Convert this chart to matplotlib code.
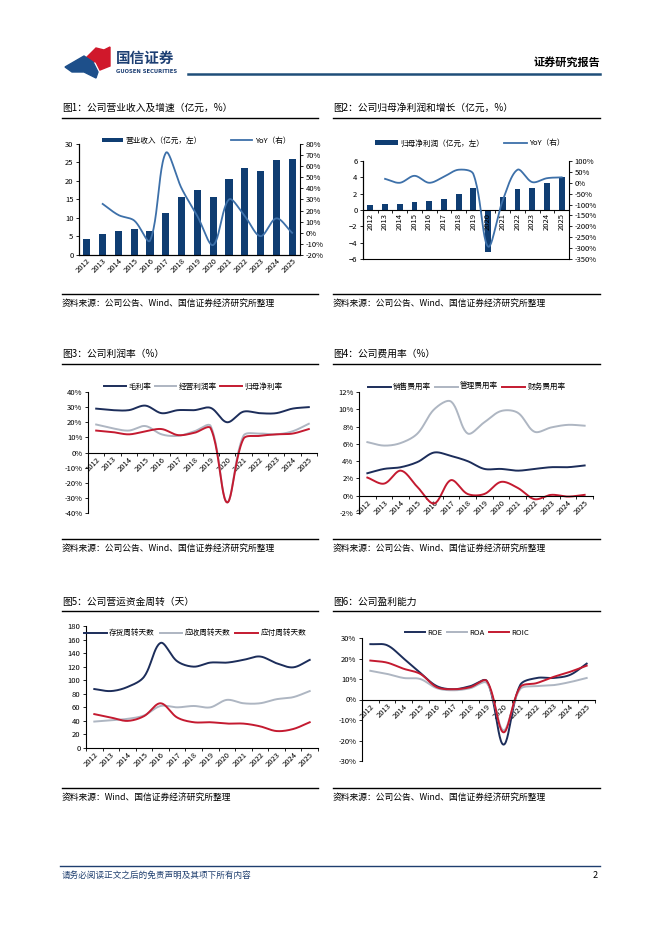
import numpy as np
import matplotlib
matplotlib.use("Agg")
import matplotlib.pyplot as plt
from matplotlib.lines import Line2D
from matplotlib.patches import Polygon
from matplotlib.ticker import FuncFormatter, MultipleLocator

plt.rcParams['font.family'] = ['Noto Sans CJK SC', 'DejaVu Sans']
plt.rcParams['axes.unicode_minus'] = True

years = [str(y) for y in range(2012, 2026)]

# 图1
revenue = [4.4, 5.6, 6.4, 7.1, 6.6, 11.3, 15.8, 17.7, 15.8, 20.5, 23.6, 22.8, 25.8, 25.9]
revenue_yoy = [None, 26, 16, 11, -7, 72, 40, 15, -11, 30, 15, -3, 13, 0]

# 图2
profit = [0.65, 0.75, 0.75, 1.0, 1.05, 1.3, 2.0, 2.7, -5.2, 1.65, 2.55, 2.7, 3.25, 4.0]
profit_yoy = [None, 18, 0, 32, 0, 28, 60, 40, -293, -80, 60, 3, 21, 25]

# 图3
gross_margin = [29, 28, 28, 31, 26, 28, 28, 29.5, 20, 27, 26, 26, 29, 30]
op_margin = [18.5, 16, 14.5, 17.5, 12, 11, 14, 17.5, -33, 11, 12.5, 12, 14, 19]
net_margin = [14.5, 13.5, 12, 14, 15.5, 11.5, 13, 16, -33, 9, 11, 12, 12.5, 15.5]

# 图4
sell_rate = [2.6, 3.1, 3.3, 3.9, 5.0, 4.6, 4.0, 3.1, 3.1, 2.9, 3.1, 3.3, 3.3, 3.5]
admin_rate = [6.2, 5.8, 6.1, 7.2, 10.0, 10.9, 7.2, 8.5, 9.8, 9.6, 7.4, 7.9, 8.2, 8.1]
fin_rate = [2.1, 1.4, 2.9, 1.0, -0.9, 1.8, 0.2, 0.2, 1.6, 0.9, -0.4, 0.1, -0.1, 0.1]

# 图5
inv_days = [87, 84, 90, 105, 155, 128, 120, 126, 126, 130, 135, 125, 119, 130]
rec_days = [39, 41, 43, 48, 62, 60, 62, 60, 71, 66, 66, 72, 75, 84]
pay_days = [50, 45, 40, 47, 66, 45, 38, 38, 36, 36, 32, 25, 28, 38]

# 图6
roe = [27, 26.5, 20, 13, 6.5, 5, 6.5, 9, -22, 7, 10.5, 10.5, 12, 17.5]
roa = [14, 12.5, 10.5, 10, 5.5, 4.5, 5.5, 8, -15, 5, 6.5, 7, 8.5, 10.5]
roic = [19, 18, 15, 12.5, 6, 5, 6, 9, -16, 6, 8, 11, 13.5, 16.5]

NAVY = '#0f3d72'
LINE_BLUE = '#3d70a9'
DARK = '#1c2d5a'
GREY = '#aeb6c2'
RED = '#c41a30'

W, H = 662, 936
fig = plt.figure(figsize=(W / 100, H / 100), dpi=100)


def fx(x):
    return x / W


def fy(y):
    return 1 - y / H


def hline(x0, x1, y, color='black', lw=1.0):
    fig.add_artist(Line2D([fx(x0), fx(x1)], [fy(y), fy(y)], color=color, lw=lw,
                          transform=fig.transFigure))


def add_axes(x0, x1, y0, y1):
    return fig.add_axes([fx(x0), fy(y1), fx(x1 - x0), (y1 - y0) / H])


def smooth(xv, yv, ky=1.0, n=24):
    # bezier smoothing, control arms weighted by neighbouring segment lengths
    pts = [(x, y) for x, y in zip(xv, yv) if y is not None]
    P = np.array(pts, float)
    Q = P * np.array([1.0, ky])
    m = len(P)

    def d(i, j):
        return np.hypot(*(Q[j] - Q[i])) + 1e-9

    out = []
    t = np.linspace(0, 1, n, endpoint=False)[:, None]
    for i in range(m - 1):
        i0, i3 = max(i - 1, 0), min(i + 2, m - 1)
        p1, p2 = P[i], P[i + 1]
        d01, d12, d23 = d(i0, i), d(i, i + 1), d(i + 1, i3)
        c1 = p1 + (P[i + 1] - P[i0]) / 3 * d12 / (d01 + d12) if i0 != i else p1 + (p2 - p1) / 3
        c2 = p2 - (P[i3] - P[i]) / 3 * d12 / (d12 + d23) if i3 != i + 1 else p2 - (p2 - p1) / 3
        seg = ((1 - t) ** 3) * p1 + 3 * ((1 - t) ** 2) * t * c1 + 3 * (1 - t) * t ** 2 * c2 + t ** 3 * p2
        out.append(seg)
    out.append(P[-1:])
    out = np.vstack(out)
    return out[:, 0], out[:, 1]


def ky_of(ax, ylim):
    bb = ax.get_position()
    wpx = bb.width * W / 14
    hpx = bb.height * H / (ylim[1] - ylim[0])
    return hpx / wpx


def style_ax(ax, fs=5.5):
    ax.tick_params(labelsize=fs, length=2.5, width=0.6, pad=1.5)
    for s in ['top', 'right']:
        ax.spines[s].set_visible(False)
    for s in ['left', 'bottom']:
        ax.spines[s].set_linewidth(0.8)


pct = FuncFormatter(lambda v, p: f'{v:.0f}%')
x = np.arange(len(years))

# ---- header / footer ----
fig.add_artist(Polygon([[fx(84), fy(60)], [fx(96), fy(48)], [fx(104), fy(50)], [fx(110), fy(47)],
                        [fx(110), fy(66)], [fx(100), fy(70)], [fx(96), fy(62)]],
                       closed=True, color='#d0182b', transform=fig.transFigure))
fig.add_artist(Polygon([[fx(65), fy(67)], [fx(84), fy(56)], [fx(93), fy(62)], [fx(98), fy(72)],
                        [fx(96), fy(78)], [fx(84), fy(72)], [fx(72), fy(72)]],
                       closed=True, color='#1d4f8a', transform=fig.transFigure))
fig.text(fx(116), fy(58), '国信证券', fontsize=10.5, fontweight='bold', color='#1d3f73', va='center')
fig.text(fx(116), fy(71.5), 'GUOSEN SECURITIES', fontsize=3.8, fontweight='bold', color='#1d3f73',
         va='center', family=['DejaVu Sans'])
fig.text(fx(600), fy(62), '证券研究报告', fontsize=8, fontweight='bold', ha='right', va='center')
hline(188, 600, 74, color='#1f4e79', lw=1.8)

hline(60, 600, 866, color='#1f3f6f', lw=1.0)
fig.text(fx(62), fy(875), '请务必阅读正文之后的免责声明及其项下所有内容', fontsize=6.2, style='italic',
         color='#1f3f6f', va='center')
fig.text(fx(598), fy(876), '2', fontsize=6.5, ha='right', va='center')

# ---- titles / rules / sources ----
blocks = [
    (62, 318, 108, 118, 294, 303, '图1：公司营业收入及增速（亿元，%）', '资料来源：公司公告、Wind、国信证券经济研究所整理'),
    (333, 600, 108, 118, 294, 303, '图2：公司归母净利润和增长（亿元，%）', '资料来源：公司公告、Wind、国信证券经济研究所整理'),
    (62, 318, 354, 364, 539, 548, '图3：公司利润率（%）', '资料来源：公司公告、Wind、国信证券经济研究所整理'),
    (333, 600, 354, 364, 539, 548, '图4：公司费用率（%）', '资料来源：公司公告、Wind、国信证券经济研究所整理'),
    (62, 318, 602, 611, 788, 797, '图5：公司营运资金周转（天）', '资料来源：Wind、国信证券经济研究所整理'),
    (333, 600, 602, 611, 788, 797, '图6：公司盈利能力', '资料来源：公司公告、Wind、国信证券经济研究所整理'),
]
for x0, x1, ty, uy, by, sy, title, src in blocks:
    fig.text(fx(x0), fy(ty), title, fontsize=7, va='center')
    hline(x0, x1, uy, lw=1.0)
    hline(x0, x1, by, lw=1.0)
    fig.text(fx(x0), fy(sy), src, fontsize=6.3, va='center')

# ---- 图1 ----
ax1 = add_axes(79, 300, 144, 255)
style_ax(ax1)
b = ax1.bar(x, revenue, width=0.45, color=NAVY, label='营业收入（亿元，左）')
ax1.set_ylim(0, 30)
ax1.set_xlim(-0.5, 13.5)
ax1.yaxis.set_major_locator(MultipleLocator(5))
ax1.set_xticks(x)
ax1.set_xticklabels(years, rotation=45, ha='right', rotation_mode='anchor')
ax1.tick_params(axis='x', length=0)
ax1r = ax1.twinx()
sx, sy_ = smooth(x, revenue_yoy, ky_of(ax1, (-20, 80)))
l, = ax1r.plot(sx, sy_, color=LINE_BLUE, lw=1.3, label='YoY（右）')
ax1r.set_ylim(-20, 80)
ax1r.yaxis.set_major_locator(MultipleLocator(10))
ax1r.yaxis.set_major_formatter(pct)
ax1r.tick_params(labelsize=5.5, length=2.5, width=0.6, pad=1.5)
ax1r.spines['top'].set_visible(False)
ax1r.spines['right'].set_linewidth(0.8)
ax1.legend(handles=[b, l], ncol=2, loc='center', bbox_to_anchor=(0.53, 1.03), frameon=False,
           fontsize=5.5, columnspacing=3.8, handlelength=2.8, handleheight=0.6, handletextpad=0.3)

# ---- 图2 ----
ax2 = add_axes(363, 569, 161, 259)
style_ax(ax2)
b2 = ax2.bar(x, profit, width=0.4, color=NAVY, label='归母净利润（亿元，左）')
ax2.set_ylim(-6, 6)
ax2.set_xlim(-0.5, 13.5)
ax2.yaxis.set_major_locator(MultipleLocator(2))
ax2.spines['bottom'].set_position(('data', 0))
ax2.set_xticks(x)
ax2.set_xticklabels(years, rotation=90, va='top')
ax2.tick_params(axis='x', length=0, pad=2)
ax2.set_xticks(np.arange(-0.5, 14, 1), minor=True)
ax2.tick_params(axis='x', which='minor', length=2.5, width=0.6)
ax2r = ax2.twinx()
sx, sy_ = smooth(x, profit_yoy, ky_of(ax2, (-350, 100)))
l2, = ax2r.plot(sx, sy_, color=LINE_BLUE, lw=1.3, label='YoY（右）')
ax2r.set_ylim(-350, 100)
ax2r.yaxis.set_major_locator(MultipleLocator(50))
ax2r.yaxis.set_major_formatter(pct)
ax2r.tick_params(labelsize=5.5, length=2.5, width=0.6, pad=1.5)
ax2r.spines['top'].set_visible(False)
ax2r.spines['right'].set_linewidth(0.8)
ax2.legend(handles=[b2, l2], ncol=2, loc='center', bbox_to_anchor=(0.52, 1.18), frameon=False,
           fontsize=5.5, columnspacing=2.6, handlelength=3.0, handleheight=0.6, handletextpad=0.3)


def line_panel(ax, series, ylim, step, fmt, zero_axis=True, legend_y=1.06, cs=0.6, lx=0.5, hl=3.0):
    style_ax(ax)
    hs = []
    k = ky_of(ax, ylim)
    for vals, color, name in series:
        sx, sy_ = smooth(x, vals, k)
        h, = ax.plot(sx, sy_, color=color, lw=1.4, label=name)
        hs.append(h)
    ax.set_ylim(*ylim)
    ax.set_xlim(-0.5, 13.5)
    ax.yaxis.set_major_locator(MultipleLocator(step))
    if fmt is not None:
        ax.yaxis.set_major_formatter(fmt)
    if zero_axis:
        ax.spines['bottom'].set_position(('data', 0))
    ax.set_xticks(x)
    ax.set_xticklabels(years, rotation=45, ha='right', rotation_mode='anchor')
    ax.tick_params(axis='x', length=0, pad=2)
    ax.set_xticks(np.arange(-0.5, 14, 1), minor=True)
    ax.tick_params(axis='x', which='minor', length=2.5, width=0.6)
    ax.legend(handles=hs, ncol=3, loc='center', bbox_to_anchor=(lx, legend_y), frameon=False,
              fontsize=5.5, columnspacing=cs, handlelength=hl, handletextpad=0.3)


# ---- 图3 ----
ax3 = add_axes(88, 317, 392, 513)
line_panel(ax3, [(gross_margin, DARK, '毛利率'), (op_margin, GREY, '经营利润率'),
                 (net_margin, RED, '归母净利率')], (-40, 40), 10, pct, legend_y=1.04, lx=0.46,
           cs=0.5, hl=2.8)

# ---- 图4 ----
ax4 = add_axes(359, 593, 392, 513)
line_panel(ax4, [(sell_rate, DARK, '销售费用率'), (admin_rate, GREY, '管理费用率'),
                 (fin_rate, RED, '财务费用率')], (-2, 12), 2, pct, legend_y=1.04, lx=0.46,
           cs=0.5, hl=3.0)

# ---- 图5 ----
ax5 = add_axes(86, 318, 626, 748)
line_panel(ax5, [(inv_days, DARK, '存货周转天数'), (rec_days, GREY, '应收周转天数'),
                 (pay_days, RED, '应付周转天数')], (0, 180), 20, None, zero_axis=False,
           legend_y=0.94, lx=0.47, cs=0.6, hl=3.0)

# ---- 图6 ----
ax6 = add_axes(362, 595, 638, 761)
line_panel(ax6, [(roe, DARK, 'ROE'), (roa, GREY, 'ROA'), (roic, RED, 'ROIC')],
           (-30, 30), 10, pct, legend_y=1.04, lx=0.45, cs=0.6, hl=2.6)

fig.savefig('out.png', dpi=100)
